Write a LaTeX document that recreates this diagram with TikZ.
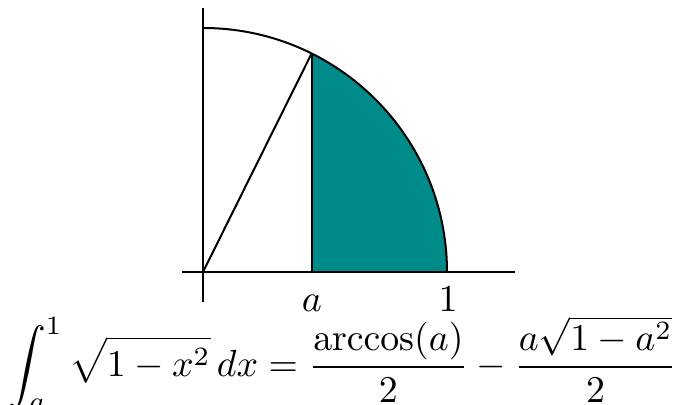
\documentclass[tikz,border=0pt]{standalone}
\usepackage{amsmath}
\definecolor{tealfill}{RGB}{0,139,139}
\begin{document}
\begin{tikzpicture}[x=0.5pt,y=0.5pt,
  ln/.style={line width=1pt,black},
  lbl/.style={inner sep=0pt,anchor=base}]
\useasboundingbox (0,0) rectangle (677,405);
\coordinate (O) at (203,133);
\coordinate (A) at (311.6,133);
\coordinate (P) at (311.6,351.5);
\coordinate (E) at (447,133);
\coordinate (T) at (203,377);
\coordinate (xl) at (182,133);
\coordinate (xr) at (515,133);
\coordinate (yb) at (203,103);
\coordinate (yt) at (203,397);
\fill[tealfill] (A) -- (P) arc[start angle=63.6,end angle=0,radius=244] -- cycle;
\draw[ln] (T) arc[start angle=90,end angle=0,radius=244];
\draw[ln] (O) -- (P);
\draw[ln] (A) -- (P);
\draw[ln] (xl) -- (xr);
\draw[ln] (yb) -- (yt);
\node[lbl] (la) at (312,93) {\scalebox{1.9}{$a$}};
\node[lbl] (l1) at (448,93) {\scalebox{1.9}{$1$}};
\node[lbl] (eq) at (342.5,28.5) {\scalebox{1.89}{$\displaystyle\int_a^1 \sqrt{1-x^2}\,dx = \frac{\arccos(a)}{2} - \frac{a\sqrt{1-a^2}}{2}$}};
\end{tikzpicture}
\end{document}
